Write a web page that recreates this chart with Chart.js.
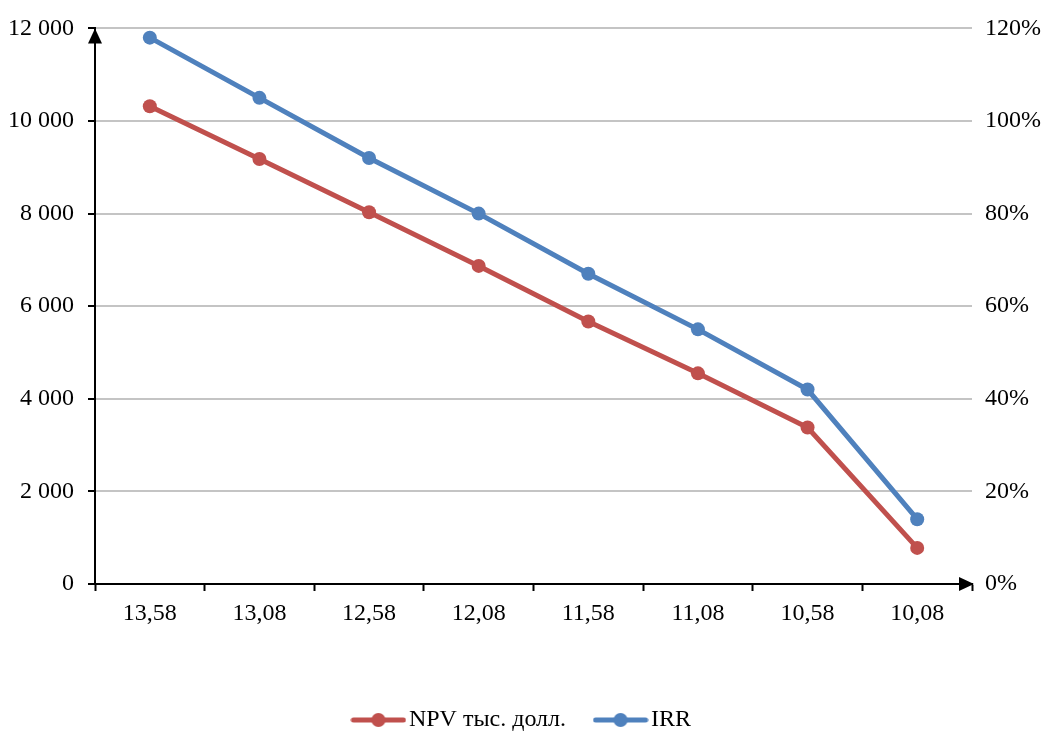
<!DOCTYPE html>
<html>
<head>
<meta charset="utf-8">
<script src="https://cdn.jsdelivr.net/npm/chart.js@4/dist/chart.umd.min.js"></script>
<style>
html,body{margin:0;padding:0;background:#fff;}
#wrap{width:1051px;height:731px;position:relative;}
</style>
</head>
<body>
<div id="wrap"><canvas id="c" width="1051" height="731"></canvas></div>
<script>
const categories = ['13,58','13,08','12,58','12,08','11,58','11,08','10,58','10,08'];
const npvValues = [10320, 9180, 8030, 6870, 5670, 4550, 3380, 780];
const irrValues = [118, 105, 92, 80, 67, 55, 42, 14];
const leftTicks = [0, 2000, 4000, 6000, 8000, 10000, 12000];
const rightTicks = [0, 20, 40, 60, 80, 100, 120];
const seriesNames = ['NPV тыс. долл.', 'IRR'];

const RED = '#C0504D', BLUE = '#4F81BD';
const FONT = {family: "'Liberation Serif', 'Times New Roman', serif", size: 24};

function legendIcon(color){
  const cv = document.createElement('canvas');
  cv.width = 56; cv.height = 16;
  const g = cv.getContext('2d');
  g.strokeStyle = color; g.lineWidth = 5; g.lineCap = 'round';
  g.beginPath(); g.moveTo(3,8); g.lineTo(53,8); g.stroke();
  g.fillStyle = color; g.beginPath(); g.arc(28,8,7,0,Math.PI*2); g.fill();
  return cv;
}
const icons = [legendIcon(RED), legendIcon(BLUE)];

function fmtThousands(v){
  return String(v).replace(/\B(?=(\d{3})+(?!\d))/g, ' ');
}

const arrowPlugin = {
  id: 'arrows',
  afterDraw(chart){
    const {ctx, chartArea: a} = chart;
    ctx.save();
    ctx.fillStyle = '#000';
    ctx.beginPath();
    ctx.moveTo(a.left, a.top);
    ctx.lineTo(a.left - 7, a.top + 15);
    ctx.lineTo(a.left + 7, a.top + 15);
    ctx.closePath(); ctx.fill();
    ctx.beginPath();
    ctx.moveTo(a.right + 2, a.bottom);
    ctx.lineTo(a.right - 13, a.bottom - 7);
    ctx.lineTo(a.right - 13, a.bottom + 7);
    ctx.closePath(); ctx.fill();
    ctx.restore();
  }
};

new Chart(document.getElementById('c'), {
  type: 'line',
  data: {
    labels: categories,
    datasets: [
      {label: seriesNames[0], data: npvValues, yAxisID: 'y', borderColor: RED, backgroundColor: RED,
       borderWidth: 5, pointRadius: 7, pointHoverRadius: 7, pointBackgroundColor: RED, pointBorderWidth: 0, tension: 0},
      {label: seriesNames[1], data: irrValues, yAxisID: 'y1', borderColor: BLUE, backgroundColor: BLUE,
       borderWidth: 5, pointRadius: 7, pointHoverRadius: 7, pointBackgroundColor: BLUE, pointBorderWidth: 0, tension: 0}
    ]
  },
  options: {
    responsive: false,
    animation: false,
    devicePixelRatio: 1,
    layout: {padding: {top: 27, left: 0, right: 0, bottom: -11}},
    plugins: {
      tooltip: {enabled: false},
      legend: {
        position: 'bottom',
        labels: {
          color: '#000',
          font: FONT,
          usePointStyle: true,
          pointStyleWidth: 37,
          padding: 36,
          generateLabels(chart){
            return chart.data.datasets.map((d, i) => ({
              text: d.label, pointStyle: icons[i], fillStyle: d.borderColor, strokeStyle: d.borderColor,
              lineWidth: 0, hidden: false, datasetIndex: i, fontColor: '#000'
            }));
          }
        }
      }
    },
    scales: {
      x: {
        type: 'category',
        offset: true,
        grid: {display: true, drawOnChartArea: false, drawTicks: true, tickLength: 7, tickColor: '#000', tickWidth: 2, offset: true},
        border: {display: true, color: '#000', width: 2},
        ticks: {color: '#000', font: FONT, padding: 8, maxRotation: 0},
        afterFit(s){ s.height = 88; }
      },
      y: {
        position: 'left',
        min: 0, max: 12000,
        afterBuildTicks(s){ s.ticks = leftTicks.map(v => ({value: v})); },
        ticks: {color: '#000', font: FONT, padding: 14, callback: v => fmtThousands(v)},
        grid: {color: '#C4C4C4', lineWidth: 2, tickColor: '#000', tickLength: 7, tickWidth: 2},
        border: {display: true, color: '#000', width: 2},
        afterFit(s){ s.width = 95; }
      },
      y1: {
        position: 'right',
        min: 0, max: 120,
        afterBuildTicks(s){ s.ticks = rightTicks.map(v => ({value: v})); },
        ticks: {color: '#000', font: FONT, padding: 13, callback: v => v + '%'},
        grid: {drawOnChartArea: false, drawTicks: false},
        border: {display: false},
        afterFit(s){ s.width = 79; }
      }
    }
  },
  plugins: [arrowPlugin]
});
</script>
</body>
</html>
